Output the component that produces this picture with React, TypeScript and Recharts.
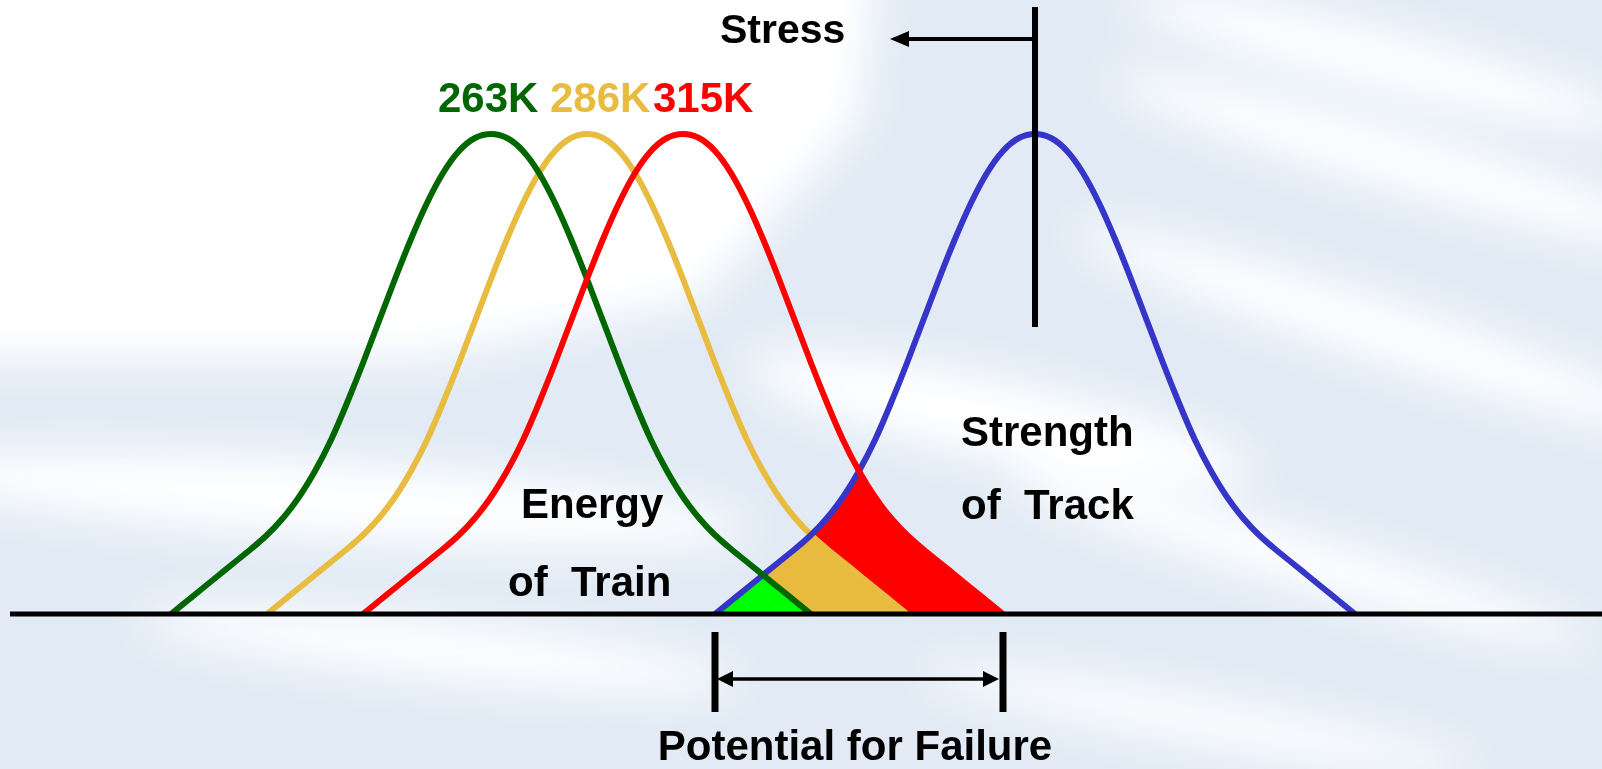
import { ComposedChart, Line, Area, XAxis, YAxis, ReferenceLine } from "recharts";

const train263K = [
  0, 13, 26, 39, 52, 65, 79, 96, 117, 143, 174, 211, 251, 293, 335, 375, 411, 441, 463, 476, 480,
  476, 463, 441, 411, 375, 335, 293, 251, 211, 174, 143, 117, 96, 79, 65, 52, 39, 26, 13, 0,
];
const train286K = [
  0, 13, 26, 39, 52, 65, 79, 96, 117, 143, 174, 211, 251, 293, 335, 375, 411, 441, 463, 476, 480,
  476, 463, 441, 411, 375, 335, 293, 251, 211, 174, 143, 117, 96, 79, 65, 52, 39, 26, 13, 0,
];
const train315K = [
  0, 13, 26, 39, 52, 65, 79, 96, 117, 143, 174, 211, 251, 293, 335, 375, 411, 441, 463, 476, 480,
  476, 463, 441, 411, 375, 335, 293, 251, 211, 174, 143, 117, 96, 79, 65, 52, 39, 26, 13, 0,
];
const trackStrength = [
  0, 13, 26, 39, 52, 65, 79, 96, 117, 143, 174, 211, 251, 293, 335, 375, 411, 441, 463, 476, 480,
  476, 463, 441, 411, 375, 335, 293, 251, 211, 174, 143, 117, 96, 79, 65, 52, 39, 26, 13, 0,
];
// where each curve starts on the shared grid
const start263K = 0;
const start286K = 6;
const start315K = 12;
const startTrack = 34;
const gridCount = 75;

const trainLabels = ["263K", "286K", "315K"];

const at = (arr: number[], s: number, i: number) =>
  i >= s && i < s + arr.length ? arr[i - s] : null;
const low = (a: number | null, b: number | null) =>
  a == null || b == null ? null : Math.min(a, b);

const rows = Array.from({ length: gridCount }, (_, i) => {
  const g = at(train263K, start263K, i);
  const y = at(train286K, start286K, i);
  const r = at(train315K, start315K, i);
  const b = at(trackStrength, startTrack, i);
  return { x: i, g, y, r, b, gFill: low(g, b), yFill: low(y, b), rFill: low(r, b) };
});

const W = 1602;
const H = 769;
const font = "'Liberation Sans', Arial, Helvetica, sans-serif";
const trackPeak = startTrack + (trackStrength.length - 1) / 2;
const redEnd = start315K + train315K.length - 1;

function Backdrop() {
  return (
    <svg width={W} height={H} style={{ position: "absolute", left: 0, top: 0 }}>
      <defs>
        <filter id="soft" x="-20%" y="-50%" width="140%" height="200%">
          <feGaussianBlur stdDeviation="22" />
        </filter>
      </defs>
      <rect width={W} height={H} fill="#e2ebf5" />
      <g filter="url(#soft)" fill="#ffffff">
        <polygon points="-50,-50 880,-50 860,120 700,300 420,360 -50,360" />
        <ellipse cx={330} cy={500} rx={420} ry={38} transform="rotate(4 330 500)" />
        <ellipse cx={440} cy={650} rx={300} ry={28} transform="rotate(6 440 650)" />
        <ellipse cx={1000} cy={420} rx={260} ry={40} transform="rotate(12 1000 420)" />
        <ellipse cx={1380} cy={60} rx={260} ry={30} transform="rotate(14 1380 60)" />
        <ellipse cx={1400} cy={160} rx={300} ry={30} transform="rotate(16 1400 160)" />
        <ellipse cx={1380} cy={330} rx={320} ry={30} transform="rotate(18 1380 330)" />
        <ellipse cx={1300} cy={560} rx={300} ry={26} transform="rotate(16 1300 560)" />
        <ellipse cx={1200} cy={720} rx={280} ry={22} transform="rotate(10 1200 720)" />
      </g>
    </svg>
  );
}

function Notes() {
  const t = { fontFamily: font, fontWeight: 700, fontSize: 42, whiteSpace: "pre" as const };
  return (
    <svg width={W} height={H} style={{ position: "absolute", left: 0, top: 0, pointerEvents: "none" }}>
      <text x={720} y={43} fill="#000" style={{ ...t, fontSize: 41 }}>Stress</text>
      <line x1={904} y1={39} x2={1034} y2={39} stroke="#000" strokeWidth={4} />
      <polygon points="890,39 909,31 909,47" fill="#000" />

      <text x={438} y={112} fill="#006600" style={t}>{trainLabels[0]}</text>
      <text x={550} y={112} fill="#e8bc40" style={t}>{trainLabels[1]}</text>
      <text x={653} y={112} fill="#ff0000" style={t}>{trainLabels[2]}</text>

      <text x={521} y={518} fill="#000" style={t}>Energy</text>
      <text x={508} y={596} fill="#000" style={t}>of  Train</text>
      <text x={961} y={446} fill="#000" style={t}>Strength</text>
      <text x={961} y={519} fill="#000" style={t}>of  Track</text>

      <line x1={728} y1={679} x2={990} y2={679} stroke="#000" strokeWidth={3.5} />
      <polygon points="717,679 733,671 733,687" fill="#000" />
      <polygon points="999,679 983,671 983,687" fill="#000" />
      <text x={855} y={760} textAnchor="middle" fill="#000" style={t}>Potential for Failure</text>
    </svg>
  );
}

export default function App() {
  const line = { type: "natural" as const, strokeWidth: 6, dot: false, activeDot: false, isAnimationActive: false };
  const fill = { type: "linear" as const, baseValue: 0, stroke: "none", fillOpacity: 1, dot: false, activeDot: false, isAnimationActive: false };
  return (
    <div style={{ position: "absolute", left: 0, top: 0, width: W, height: H, overflow: "hidden" }}>
      <Backdrop />
      <div style={{ position: "absolute", left: 0, top: 0 }}>
        <ComposedChart width={W} height={H} data={rows} margin={{ top: 0, right: 0, bottom: 0, left: 0 }}>
          <XAxis type="number" dataKey="x" domain={[-10.6875, 89.4375]} allowDataOverflow hide />
          <YAxis type="number" domain={[-155, 614]} allowDataOverflow hide />
          <Area {...fill} dataKey="rFill" fill="#ff0000" />
          <Area {...fill} dataKey="yFill" fill="#e8bb3e" />
          <Area {...fill} dataKey="gFill" fill="#00ff00" />
          <Line {...line} dataKey="y" stroke="#e8bc40" />
          <Line {...line} dataKey="b" stroke="#3535c8" />
          <Line {...line} dataKey="g" stroke="#006600" />
          <Line {...line} dataKey="r" stroke="#ff0000" />
          <ReferenceLine segment={[{ x: -10.0625, y: 0 }, { x: 89.4375, y: 0 }]} stroke="#000" strokeWidth={5} />
          <ReferenceLine segment={[{ x: trackPeak, y: 287 }, { x: trackPeak, y: 607 }]} stroke="#000" strokeWidth={6} />
          <ReferenceLine segment={[{ x: startTrack, y: -18 }, { x: startTrack, y: -98 }]} stroke="#000" strokeWidth={7} />
          <ReferenceLine segment={[{ x: redEnd, y: -18 }, { x: redEnd, y: -98 }]} stroke="#000" strokeWidth={7} />
        </ComposedChart>
      </div>
      <Notes />
    </div>
  );
}
